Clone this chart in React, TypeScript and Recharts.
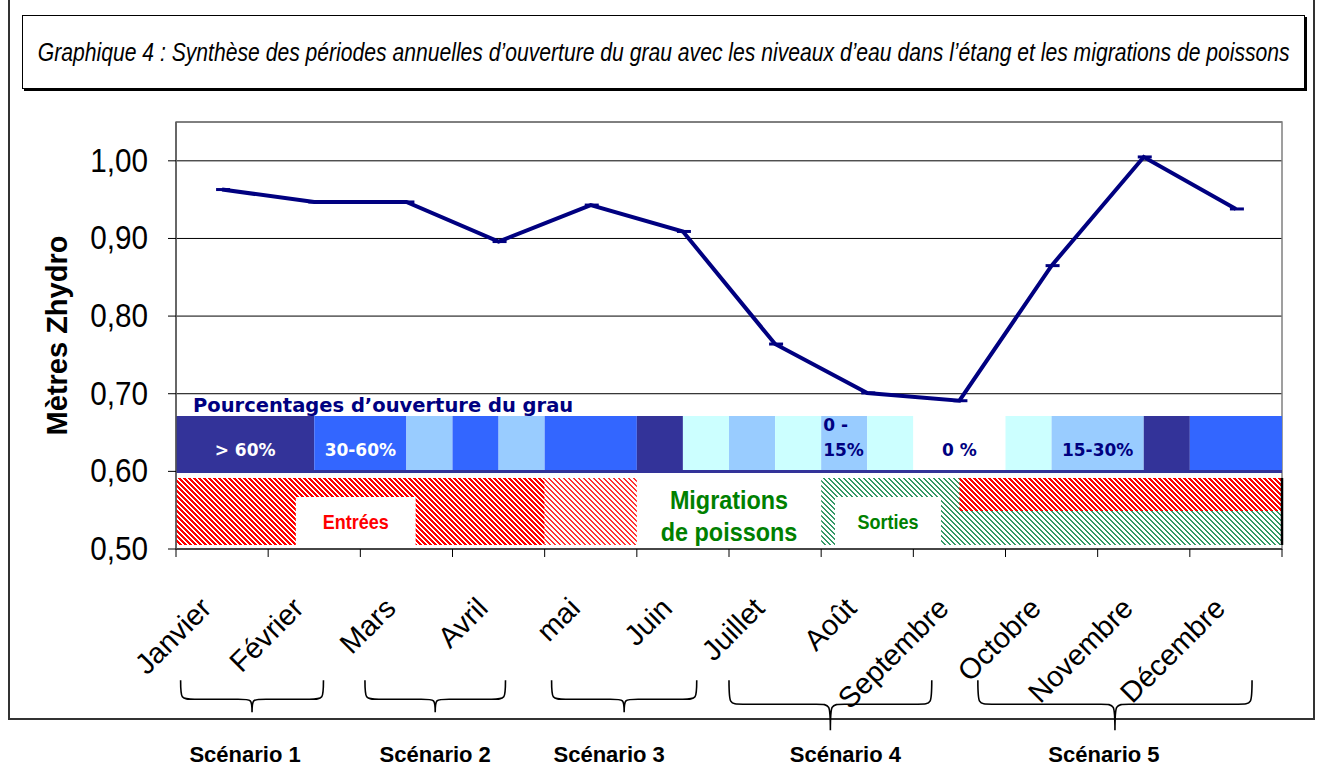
import { LineChart, Line, XAxis, YAxis, CartesianGrid, ReferenceArea, ReferenceLine } from "recharts";

const SANS = "'Liberation Sans', Arial, sans-serif";
const WIDE_BOLD = "'DejaVu Sans', Verdana, sans-serif";

const months = ["Janvier", "Février", "Mars", "Avril", "mai", "Juin", "Juillet", "Août", "Septembre", "Octobre", "Novembre", "Décembre"];
const levels = [0.963, 0.947, 0.947, 0.896, 0.943, 0.909, 0.764, 0.701, 0.691, 0.865, 1.005, 0.938];
const yTicks = [0.5, 0.6, 0.7, 0.8, 0.9, 1.0];

// opening class for each half-month (24 halves)
const opening = [
  "hi", "hi", "hi", "mid", "mid", "low", "mid", "low", "mid", "mid", "hi", "min",
  "low", "min", "low", "min", "zero", "zero", "min", "low", "low", "hi", "mid", "mid",
];
const openingColors: Record<string, string> = {
  hi: "#333399",
  mid: "#3366ff",
  low: "#99ccff",
  min: "#ccffff",
  zero: "#ffffff",
};
const openingLabels = [
  { lines: ["> 60%"], from: 0, to: 3, color: "#ffffff" },
  { lines: ["30-60%"], from: 3, to: 5, color: "#ffffff" },
  { lines: ["0 -", "15%"], from: 14, to: 15, color: "#000080" },
  { lines: ["0 %"], from: 16, to: 18, color: "#000080" },
  { lines: ["15-30%"], from: 19, to: 21, color: "#000080" },
];

// fish migrations (half-month units)
const migrations = [
  { kind: "in", from: 0, to: 8, part: "full" },
  { kind: "inWeak", from: 8, to: 10, part: "full" },
  { kind: "out", from: 14, to: 24, part: "full" },
  { kind: "in", from: 17, to: 24, part: "top" },
];
const migrationBoxes = [
  { text: "Entrées", from: 2.6, to: 5.2, color: "#ff0000" },
  { text: "Sorties", from: 14.3, to: 16.6, color: "#008000" },
];

const scenarios = ["Scénario 1", "Scénario 2", "Scénario 3", "Scénario 4", "Scénario 5"];
const scenarioFirst = [0, 2, 4, 6, 9];
const scenarioLast = [1, 3, 5, 8, 11];
// brace tweaks (half-month units), depth and label shift (px)
const braceLayout = [
  { l: 0.1, r: -0.8, deep: false, shift: -7 },
  { l: 0.1, r: -0.85, deep: false, shift: 0 },
  { l: 0.15, r: -0.7, deep: false, shift: -15 },
  { l: 0, r: -1.6, deep: true, shift: 15 },
  { l: -0.6, r: -0.65, deep: true, shift: -11 },
];

const data = months.map((m, i) => ({ pos: 2 * i + 1, month: m, level: levels[i] }));

// vertical layout (axis units)
const BAND_TOP = 0.6714;
const BAND_BOTTOM = 0.6018;
const STRIP_BOTTOM = 0.5979;
const MIG_TOP = 0.5915;
const MIG_MID = 0.549;
const MIG_BOTTOM = 0.5052;
const BOX_TOP = 0.567;
const BRACE_TOP = 0.331;

const runs: { cls: string; from: number; to: number }[] = [];
opening.forEach((c, i) => {
  const last = runs[runs.length - 1];
  if (last && last.cls === c) last.to = i + 1;
  else runs.push({ cls: c, from: i, to: i + 1 });
});

const migFill: Record<string, string> = { in: "url(#hRed)", inWeak: "url(#hRedLight)", out: "url(#hGreen)" };

const P = 5; // hatch period in px
// pixel hatch tile, "\" direction
const HatchTile = ({ color, thick }: { color: string; thick: number }) => (
  <g shapeRendering="crispEdges">
    {Array.from({ length: P }, (_, row) =>
      Array.from({ length: thick }, (_, k) => (
        <rect key={`${row}-${k}`} x={(row + k) % P} y={row} width={1} height={1} fill={color} />
      ))
    )}
  </g>
);

// text squeezed horizontally (narrow font look)
const SText = ({ x, y, sx = 1, rot = 0, children, ...rest }: any) => (
  <text transform={`translate(${x} ${y}) rotate(${rot}) scale(${sx} 1)`} {...rest}>
    {children}
  </text>
);

const MonthTick = (props: any) => {
  const { x, y, payload } = props;
  const v = payload.value;
  if (v % 2 === 0) return <line x1={x} x2={x} y1={y} y2={y + 8} stroke="#000" strokeWidth={1} />;
  return (
    <SText x={x - 9} y={y + 61} rot={-45} textAnchor="end" fontFamily={SANS} fontSize={29} fill="#000">
      {months[(v - 1) / 2]}
    </SText>
  );
};

const YTick = (props: any) => {
  const { x, y, payload } = props;
  return (
    <SText x={x} y={y} sx={0.9} textAnchor="end" dominantBaseline="central" fontFamily={SANS} fontSize={33} fill="#000">
      {payload.value.toFixed(2).replace(".", ",")}
    </SText>
  );
};

const DashDot = (props: any) => {
  const { cx, cy } = props;
  return <line x1={cx - 6} x2={cx + 8} y1={cy} y2={cy} stroke="#000080" strokeWidth={3} />;
};

const YLabel = (props: any) => {
  const { viewBox } = props;
  const cx = viewBox.x + 19;
  const cy = viewBox.y + viewBox.height / 2;
  return (
    <text x={cx} y={cy} transform={`rotate(-90 ${cx} ${cy})`} textAnchor="middle" dominantBaseline="central" fontFamily={SANS} fontWeight="bold" fontSize={29} fill="#000">
      Mètres Zhydro
    </text>
  );
};

const makeBrace = (i: number) => (props: any) => {
  const { x, y, width } = props;
  const deep = braceLayout[i].deep;
  const yh = y + (deep ? 24 : 19);
  const yb = y + (deep ? 50 : 32);
  const mid = x + width / 2;
  const r = 14;
  const d = `M${x},${y} C${x},${yh} ${x},${yh} ${x + r},${yh} L${mid - r},${yh} C${mid},${yh} ${mid},${yh} ${mid},${yb} C${mid},${yh} ${mid},${yh} ${mid + r},${yh} L${x + width - r},${yh} C${x + width},${yh} ${x + width},${yh} ${x + width},${y}`;
  return (
    <g>
      <path d={d} fill="none" stroke="#000" strokeWidth={1.6} />
      <text x={mid + braceLayout[i].shift} y={y + 82} textAnchor="middle" fontFamily={SANS} fontWeight="bold" fontSize={22} fill="#000">
        {scenarios[i]}
      </text>
    </g>
  );
};

export default function App() {
  return (
    <div style={{ position: "absolute", left: 0, top: 0, width: 1321, height: 767, background: "#fff" }}>
      <div style={{ position: "absolute", left: 8, top: -4, width: 1303, height: 720, border: "2px solid #333" }} />
      <div
        style={{
          position: "absolute",
          left: 22,
          top: 15,
          width: 1281,
          height: 72,
          border: "1.5px solid #000",
          boxShadow: "2px 2px 0 #000",
          display: "flex",
          alignItems: "center",
          justifyContent: "center",
          overflow: "hidden",
        }}
      >
        <span
          style={{
            display: "inline-block",
            fontFamily: SANS,
            fontStyle: "italic",
            fontSize: 25,
            color: "#000",
            whiteSpace: "nowrap",
            transform: "scaleX(0.845)",
            transformOrigin: "center",
          }}
        >
          Graphique 4 : Synthèse des périodes annuelles d’ouverture du grau avec les niveaux d’eau dans l’étang et les migrations de poissons
        </span>
      </div>
      <div style={{ position: "absolute", left: 0, top: 0 }}>
        <LineChart width={1321} height={767} data={data} margin={{ top: 122, right: 39, bottom: 158, left: 38 }}>
          <defs>
            <pattern id="hRed" patternUnits="userSpaceOnUse" x="0" y="0" width={P} height={P}>
              <HatchTile color="#ff0000" thick={3} />
            </pattern>
            <pattern id="hRedLight" patternUnits="userSpaceOnUse" x="0" y="0" width={P} height={P}>
              <HatchTile color="#ff3333" thick={2} />
            </pattern>
            <pattern id="hGreen" patternUnits="userSpaceOnUse" x="0" y="0" width={P} height={P}>
              <HatchTile color="#339966" thick={2} />
            </pattern>
          </defs>
          <CartesianGrid vertical={false} stroke="#000" strokeWidth={1} />
          <XAxis
            dataKey="pos"
            type="number"
            domain={[0, 24]}
            ticks={Array.from({ length: 25 }, (_, i) => i)}
            interval={0}
            allowDataOverflow
            height={60}
            tickSize={0}
            tickMargin={0}
            tickLine={false}
            axisLine={{ stroke: "#333", strokeWidth: 1.5 }}
            tick={<MonthTick />}
          />
          <YAxis
            type="number"
            domain={[0.5, 1.05]}
            ticks={yTicks}
            allowDataOverflow
            width={138}
            tickSize={8}
            tickMargin={20}
            tickLine={{ stroke: "#000" }}
            axisLine={{ stroke: "#555", strokeWidth: 1.5 }}
            tick={<YTick />}
            label={<YLabel />}
          />
          <ReferenceArea x1={0} x2={24} y1={0.5} y2={1.05} fill="none" stroke="#808080" strokeWidth={1.5} ifOverflow="visible" />
          {runs.map((r, i) => (
            <ReferenceArea key={`run${i}`} x1={r.from} x2={r.to} y1={BAND_BOTTOM} y2={BAND_TOP} fill={openingColors[r.cls]} fillOpacity={1} stroke="none" ifOverflow="visible" />
          ))}
          <ReferenceArea x1={0} x2={24} y1={STRIP_BOTTOM} y2={BAND_BOTTOM} fill="#333399" fillOpacity={1} stroke="none" ifOverflow="visible" />
          <ReferenceArea
            x1={0}
            x2={24}
            y1={BAND_BOTTOM}
            y2={BAND_TOP}
            fill="none"
            stroke="none"
            ifOverflow="visible"
            label={(p: any) => (
              <text x={p.viewBox.x + 17} y={p.viewBox.y - 4} fontFamily={WIDE_BOLD} fontWeight="bold" fontSize={19.5} fill="#000080">
                Pourcentages d’ouverture du grau
              </text>
            )}
          />
          {openingLabels.map((o, i) => (
            <ReferenceArea
              key={`ol${i}`}
              x1={o.from}
              x2={o.to}
              y1={BAND_BOTTOM}
              y2={BAND_TOP}
              fill="none"
              stroke="none"
              ifOverflow="visible"
              label={(p: any) =>
                o.lines.length === 1 ? (
                  <text x={p.viewBox.x + p.viewBox.width / 2} y={p.viewBox.y + 40} textAnchor="middle" fontFamily={WIDE_BOLD} fontWeight="bold" fontSize={17} fill={o.color}>
                    {o.lines[0]}
                  </text>
                ) : (
                  <g>
                    {o.lines.map((t, k) => (
                      <text key={k} x={p.viewBox.x + 2} y={p.viewBox.y + 15 + k * 25} fontFamily={WIDE_BOLD} fontWeight="bold" fontSize={17} fill={o.color}>
                        {t}
                      </text>
                    ))}
                  </g>
                )
              }
            />
          ))}
          {migrations.map((m, i) => (
            <ReferenceArea
              key={`mig${i}`}
              x1={m.from}
              x2={m.to}
              y1={m.part === "top" ? MIG_MID : MIG_BOTTOM}
              y2={MIG_TOP}
              fill={migFill[m.kind]}
              fillOpacity={1}
              stroke="none"
              ifOverflow="visible"
            />
          ))}
          {migrationBoxes.map((b, i) => (
            <ReferenceArea
              key={`box${i}`}
              x1={b.from}
              x2={b.to}
              y1={MIG_BOTTOM}
              y2={BOX_TOP}
              fill="#ffffff"
              fillOpacity={1}
              stroke="none"
              ifOverflow="visible"
              label={(p: any) => (
                <SText x={p.viewBox.x + p.viewBox.width / 2} y={p.viewBox.y + 32} sx={0.9} textAnchor="middle" fontFamily={SANS} fontWeight="bold" fontSize={20} fill={b.color}>
                  {b.text}
                </SText>
              )}
            />
          ))}
          <ReferenceArea
            x1={10}
            x2={14}
            y1={MIG_BOTTOM}
            y2={MIG_TOP}
            fill="none"
            stroke="none"
            ifOverflow="visible"
            label={(p: any) => (
              <g>
                <SText x={p.viewBox.x + p.viewBox.width / 2} y={p.viewBox.y + 31} sx={0.9} textAnchor="middle" fontFamily={SANS} fontWeight="bold" fontSize={26} fill="#008000">
                  Migrations
                </SText>
                <SText x={p.viewBox.x + p.viewBox.width / 2} y={p.viewBox.y + 63} sx={0.9} textAnchor="middle" fontFamily={SANS} fontWeight="bold" fontSize={26} fill="#008000">
                  de poissons
                </SText>
              </g>
            )}
          />
          <ReferenceLine
            segment={[
              { x: 24, y: MIG_TOP },
              { x: 24, y: MIG_BOTTOM },
            ]}
            stroke="#000"
            strokeWidth={2.5}
            ifOverflow="visible"
          />
          {scenarios.map((s, i) => (
            <ReferenceArea
              key={s}
              x1={scenarioFirst[i] * 2 + braceLayout[i].l}
              x2={scenarioLast[i] * 2 + 2 + braceLayout[i].r}
              y1={BRACE_TOP - 0.05}
              y2={BRACE_TOP}
              ifOverflow="visible"
              shape={makeBrace(i)}
            />
          ))}
          <Line
            dataKey="level"
            type="linear"
            stroke="#000080"
            strokeWidth={4}
            dot={<DashDot />}
            activeDot={false}
            isAnimationActive={false}
          />
        </LineChart>
      </div>
    </div>
  );
}
